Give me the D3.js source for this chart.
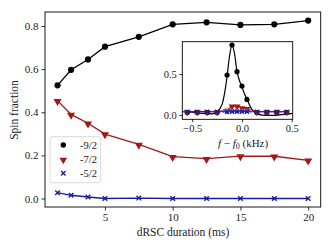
<!DOCTYPE html>
<html><head><meta charset="utf-8">
<script src="https://cdn.jsdelivr.net/npm/d3@7"></script>
<style>body{margin:0;background:#fff}svg{display:block}text{font-family:"Liberation Serif","DejaVu Serif",serif;fill:#222}</style>
</head><body><svg id="c" width="333" height="250"></svg>
<script>
// Main panel data
const durations = [1.5, 2.5, 3.75, 5, 7.5, 10, 12.5, 15, 17.5, 20];
const m92 = [0.525, 0.597, 0.645, 0.704, 0.75, 0.808, 0.817, 0.805, 0.808, 0.825];
const m72 = [0.454, 0.39, 0.349, 0.299, 0.251, 0.194, 0.185, 0.197, 0.196, 0.177];
const m52 = [0.027, 0.015, 0.007, 0.0, 0.002, 0.0, 0.0, 0.0, 0.0, 0.0];
const xTicks = [5, 10, 15, 20];
const yTicks = [0.0, 0.2, 0.4, 0.6, 0.8];
const legendLabels = ["-9/2", "-7/2", "-5/2"];

// Inset data
const detuning = [-0.55, -0.45, -0.35, -0.25, -0.15, -0.1, -0.05, 0, 0.05, 0.15, 0.25, 0.35, 0.45];
const in92 = [0.03, 0.03, 0.03, 0.03, 0.488, 0.854, 0.528, 0.354, 0.19, 0.03, 0.03, 0.03, 0.03];
const in72 = [0.04, 0.04, 0.04, 0.04, 0.06, 0.11, 0.11, 0.09, 0.08, 0.04, 0.04, 0.04, 0.04];
const in52 = [0.04, 0.04, 0.04, 0.04, 0.04, 0.04, 0.04, 0.04, 0.04, 0.04, 0.04, 0.04, 0.04];
const fineDetuning = [-0.175, -0.15, -0.125, -0.1, -0.075, -0.05, -0.025, 0, 0.025, 0.05, 0.075];
const fine52 = [0.05, 0.05, 0.05, 0.05, 0.05, 0.05, 0.05, 0.05, 0.05, 0.05, 0.05];
const fitX = [-0.6, -0.5, -0.4, -0.3, -0.25, -0.2, -0.17, -0.15, -0.125, -0.1, -0.075, -0.05, -0.025, 0.0, 0.025, 0.05, 0.1, 0.15, 0.2, 0.3, 0.4, 0.51];
const fitY = [0.04, 0.035, 0.02, 0.015, 0.04, 0.13, 0.3, 0.47, 0.72, 0.85, 0.75, 0.53, 0.42, 0.34, 0.26, 0.19, 0.07, 0.02, 0.0, -0.005, 0.005, 0.02];
const inXTicks = [-0.5, 0.0, 0.5];
const inYTicks = [0.0, 0.5];

const BLACK = "#000", RED = "#a01818", BLUE = "#1c1c96", LBLUE = "#6f7fe0";
const svg = d3.select("#c");

const x = d3.scaleLinear().domain([0.575, 20.925]).range([45, 320.7]);
const y = d3.scaleLinear().domain([-0.0394, 0.865]).range([207, 12]);

const fmt = d3.format(".1f");
const gx = svg.append("g").attr("transform", "translate(0,207)")
  .call(d3.axisBottom(x).tickValues(xTicks).tickSize(3.5).tickPadding(3).tickFormat(d3.format("d")));
const gy = svg.append("g").attr("transform", "translate(45,0)")
  .call(d3.axisLeft(y).tickValues(yTicks).tickSize(3.5).tickPadding(3).tickFormat(fmt));
[gx, gy].forEach(g => {
  g.select(".domain").remove();
  g.selectAll("line").attr("stroke", "#000").attr("stroke-width", 0.8);
  g.selectAll("text").attr("font-size", 11).attr("font-family", "Liberation Serif").attr("fill", "#222");
});
svg.append("rect").attr("x", 45).attr("y", 12).attr("width", 275.7).attr("height", 195)
  .attr("fill", "none").attr("stroke", "#000").attr("stroke-width", 0.9);

svg.append("text").attr("x", 183).attr("y", 236).attr("text-anchor", "middle").attr("font-size", 11.5).text("dRSC duration (ms)");
svg.append("text").attr("transform", "translate(18,110) rotate(-90)").attr("text-anchor", "middle").attr("font-size", 11.5).text("Spin fraction");

const tri = d3.symbol().type(d3.symbolTriangle);
function drawSeries(g, xs, ys, xsc, ysc, color, kind, sz, lw) {
  const pts = xs.map((d, i) => [xsc(d), ysc(ys[i])]);
  if (lw > 0) g.append("path").attr("d", d3.line()(pts)).attr("fill", "none").attr("stroke", color).attr("stroke-width", lw);
  pts.forEach(p => {
    if (kind === "o") g.append("circle").attr("cx", p[0]).attr("cy", p[1]).attr("r", sz).attr("fill", color);
    else if (kind === "v") g.append("path").attr("d", tri.size(sz * sz * 1.6)()).attr("transform", `translate(${p[0]},${p[1] + 0.6}) rotate(180)`).attr("fill", color);
    else if (kind === "x") g.append("path").attr("d", `M${-sz},${-sz}L${sz},${sz}M${-sz},${sz}L${sz},${-sz}`).attr("transform", `translate(${p[0]},${p[1]})`).attr("stroke", color).attr("stroke-width", 1.4).attr("fill", "none");
  });
}
const gm = svg.append("g");
drawSeries(gm, durations, m52, x, y, BLUE, "x", 2.3, 1.3);
drawSeries(gm, durations, m72, x, y, RED, "v", 4.2, 1.3);
drawSeries(gm, durations, m92, x, y, BLACK, "o", 3.1, 1.3);

// Legend
const lg = svg.append("g");
lg.append("rect").attr("x", 50).attr("y", 136.7).attr("width", 50.7).attr("height", 46).attr("rx", 2)
  .attr("fill", "#fff").attr("fill-opacity", 0.85).attr("stroke", "#d0d0d0").attr("stroke-width", 0.8);
const legY = [145, 159.3, 173.3];
const legKinds = [["o", BLACK, 2.7], ["v", RED, 4], ["x", BLUE, 2.2]];
legendLabels.forEach((t, i) => {
  const [k, c, s] = legKinds[i];
  const gi = lg.append("g");
  drawSeries(gi, [0], [0], () => 63.3, () => legY[i], c, k, s, 0);
  lg.append("text").attr("x", 80).attr("y", legY[i] + 3.8).attr("font-size", 10.5).text(t);
});

// Inset
const ix = d3.scaleLinear().domain([-0.6, 0.51]).range([182.3, 292.7]);
const iy = d3.scaleLinear().domain([-0.052, 0.894]).range([119.3, 41.7]);
svg.append("rect").attr("x", 182.3).attr("y", 41.7).attr("width", 110.4).attr("height", 77.6).attr("fill", "#fff");
const gi = svg.append("g");
gi.append("defs").append("clipPath").attr("id", "ic").append("rect").attr("x", 182.3).attr("y", 41.7).attr("width", 110.4).attr("height", 77.6);
const gic = gi.append("g").attr("clip-path", "url(#ic)");
gic.append("path").attr("d", d3.line().curve(d3.curveMonotoneX)(fitX.map((d, i) => [ix(d), iy(fitY[i])])))
  .attr("fill", "none").attr("stroke", BLACK).attr("stroke-width", 1.2);
drawSeries(gic, detuning, in92, ix, iy, BLACK, "o", 2.6, 0);
drawSeries(gic, detuning, in72, ix, iy, RED, "v", 3.6, 1.1);
drawSeries(gic, fineDetuning, fine52, ix, iy, LBLUE, "x", 1.6, 0);
drawSeries(gic, detuning, in52, ix, iy, BLUE, "x", 2.0, 1.1);

const igx = gi.append("g").attr("transform", "translate(0,119.3)")
  .call(d3.axisBottom(ix).tickValues(inXTicks).tickSize(3).tickPadding(2.5).tickFormat(d => d < 0 ? "\u2212" + fmt(-d) : fmt(d)));
const igy = gi.append("g").attr("transform", "translate(182.3,0)")
  .call(d3.axisLeft(iy).tickValues(inYTicks).tickSize(3).tickPadding(2.5).tickFormat(fmt));
[igx, igy].forEach(g => {
  g.select(".domain").remove();
  g.selectAll("line").attr("stroke", "#000").attr("stroke-width", 0.8);
  g.selectAll("text").attr("font-size", 10.5).attr("font-family", "Liberation Serif").attr("fill", "#222");
});
gi.append("rect").attr("x", 182.3).attr("y", 41.7).attr("width", 110.4).attr("height", 77.6)
  .attr("fill", "none").attr("stroke", "#000").attr("stroke-width", 0.9);
const il = gi.append("text").attr("x", 243).attr("y", 146.5).attr("text-anchor", "middle").attr("font-size", 11);
il.append("tspan").attr("font-style", "italic").text("f");
il.append("tspan").text(" \u2212 ");
il.append("tspan").attr("font-style", "italic").text("f");
il.append("tspan").attr("font-size", 8).attr("dy", 2.5).text("0");
il.append("tspan").attr("dy", -2.5).text(" (kHz)");
</script></body></html>
